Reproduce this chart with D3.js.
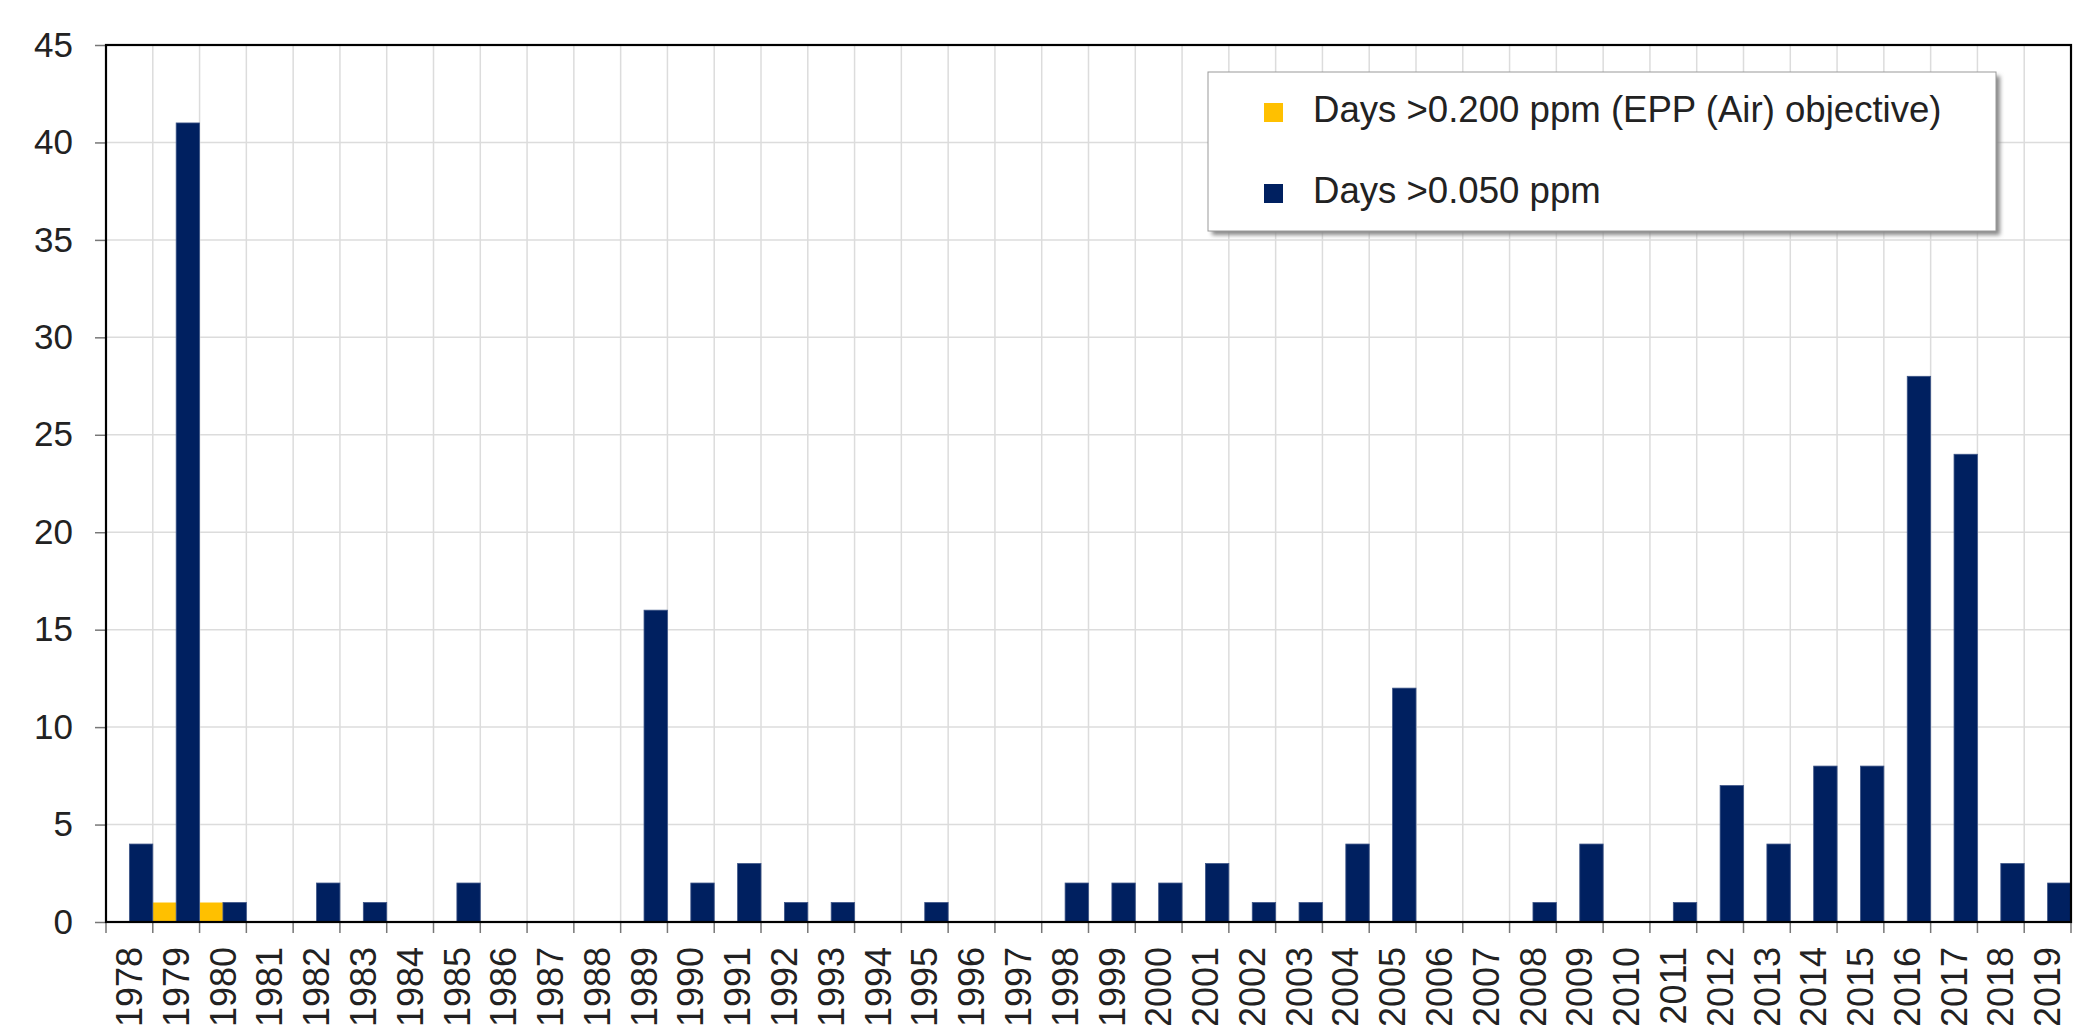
<!DOCTYPE html>
<html>
<head>
<meta charset="utf-8">
<script src="https://cdn.jsdelivr.net/npm/d3@7"></script>
<style>
  body { margin: 0; background: #fff; }
  svg { display: block; }
</style>
</head>
<body>
<div id="chart"></div>
<script>
var years = [1978, 1979, 1980, 1981, 1982, 1983, 1984, 1985, 1986, 1987,
             1988, 1989, 1990, 1991, 1992, 1993, 1994, 1995, 1996, 1997,
             1998, 1999, 2000, 2001, 2002, 2003, 2004, 2005, 2006, 2007,
             2008, 2009, 2010, 2011, 2012, 2013, 2014, 2015, 2016, 2017,
             2018, 2019];
var days200 = [0, 1, 1, 0, 0, 0, 0, 0, 0, 0,
               0, 0, 0, 0, 0, 0, 0, 0, 0, 0,
               0, 0, 0, 0, 0, 0, 0, 0, 0, 0,
               0, 0, 0, 0, 0, 0, 0, 0, 0, 0,
               0, 0];
var days050 = [4, 41, 1, 0, 2, 1, 0, 2, 0, 0,
               0, 16, 2, 3, 1, 1, 0, 1, 0, 0,
               2, 2, 2, 3, 1, 1, 4, 12, 0, 0,
               1, 4, 0, 1, 7, 4, 8, 8, 28, 24,
               3, 2];
var seriesNames = ["Days >0.200 ppm (EPP (Air) objective)", "Days >0.050 ppm"];
var seriesColors = ["#ffc000", "#002060"];
var yTicks = [0, 5, 10, 15, 20, 25, 30, 35, 40, 45];

function init() {
    var w = 2093, h = 1025;
    var left = 106, right = 2071, top = 45, bottom = 922;

    var svg = d3.select("#chart").append("svg")
        .attr("width", w)
        .attr("height", h)
        .style("font-family", "'Liberation Sans', Arial, sans-serif");

    var x = d3.scaleBand().domain(years).range([left, right]).padding(0);
    var xInner = d3.scaleBand().domain([0, 1]).range([0, x.bandwidth()]).padding(0);
    var y = d3.scaleLinear().domain([0, 45]).range([bottom, top]);

    // grid
    svg.append("g").selectAll("line.h")
        .data(yTicks).enter().append("line")
        .attr("x1", left).attr("x2", right)
        .attr("y1", function(d) { return y(d); })
        .attr("y2", function(d) { return y(d); })
        .attr("stroke", "#dcdcdc").attr("stroke-width", 1.5);

    var bounds = years.map(function(d) { return x(d); }).concat([right]);
    svg.append("g").selectAll("line.v")
        .data(bounds).enter().append("line")
        .attr("x1", function(d) { return d; }).attr("x2", function(d) { return d; })
        .attr("y1", top).attr("y2", bottom)
        .attr("stroke", "#dcdcdc").attr("stroke-width", 1.5);

    // bars
    var series = [days200, days050];
    series.forEach(function(vals, s) {
        svg.append("g").selectAll("rect")
            .data(years).enter().append("rect")
            .filter(function(d, i) { return vals[i] > 0; })
            .attr("x", function(d) { return x(d) + xInner(s); })
            .attr("y", function(d) { return y(vals[years.indexOf(d)]); })
            .attr("width", xInner.bandwidth())
            .attr("height", function(d) { return bottom - y(vals[years.indexOf(d)]); })
            .attr("fill", seriesColors[s])
            .attr("stroke", s == 1 ? "#3d5587" : "none")
            .attr("stroke-width", 0.8);
    });

    // y axis
    var yAxis = d3.axisLeft(y).tickValues(yTicks).tickSize(11).tickPadding(22);
    var gy = svg.append("g")
        .attr("transform", "translate(" + left + ",0)")
        .call(yAxis);
    gy.select(".domain").remove();
    gy.selectAll(".tick line").attr("stroke", "#777").attr("stroke-width", 1.5);
    gy.selectAll("text")
        .attr("font-size", 35)
        .attr("font-family", "'Liberation Sans', Arial, sans-serif")
        .attr("fill", "#222");

    // x axis labels
    var xAxis = d3.axisBottom(x).tickSize(0).tickPadding(0);
    var gx = svg.append("g")
        .attr("transform", "translate(0," + bottom + ")")
        .call(xAxis);
    gx.select(".domain").remove();
    gx.selectAll("text")
        .attr("font-size", 36)
        .attr("font-family", "'Liberation Sans', Arial, sans-serif")
        .attr("fill", "#222")
        .attr("text-anchor", "end")
        .attr("dy", "0.35em")
        .attr("transform", "translate(0,25) rotate(-90)")
        .attr("y", 0)
        .attr("x", 0);

    svg.append("g").selectAll("line")
        .data(bounds).enter().append("line")
        .attr("x1", function(d) { return d; }).attr("x2", function(d) { return d; })
        .attr("y1", bottom).attr("y2", bottom + 11)
        .attr("stroke", "#777").attr("stroke-width", 1.5);

    // frame
    svg.append("rect")
        .attr("x", left).attr("y", top)
        .attr("width", right - left).attr("height", bottom - top)
        .attr("fill", "none").attr("stroke", "#000").attr("stroke-width", 2.2);

    // legend
    var defs = svg.append("defs");
    defs.append("filter").attr("id", "blur")
        .attr("x", "-5%").attr("y", "-5%").attr("width", "110%").attr("height", "120%")
        .append("feGaussianBlur").attr("stdDeviation", 2);

    var lx = 1208, ly = 72, lw = 788, lh = 159;
    svg.append("rect")
        .attr("x", lx + 4).attr("y", ly + 4).attr("width", lw).attr("height", lh)
        .attr("fill", "#888").attr("filter", "url(#blur)");
    svg.append("rect")
        .attr("x", lx).attr("y", ly).attr("width", lw).attr("height", lh)
        .attr("fill", "#fff").attr("stroke", "#999").attr("stroke-width", 1);

    var legend = svg.append("g").selectAll("g")
        .data(seriesNames).enter().append("g")
        .attr("transform", function(d, i) { return "translate(" + (lx + 56) + "," + (ly + 50 + i * 81) + ")"; });
    legend.append("rect")
        .attr("x", 0).attr("y", -19).attr("width", 19).attr("height", 19)
        .attr("fill", function(d, i) { return seriesColors[i]; });
    legend.append("text")
        .attr("x", 49)
        .attr("font-size", 36.6)
        .attr("fill", "#222")
        .text(function(d) { return d; });
}
window.onload = init;
</script>
</body>
</html>
